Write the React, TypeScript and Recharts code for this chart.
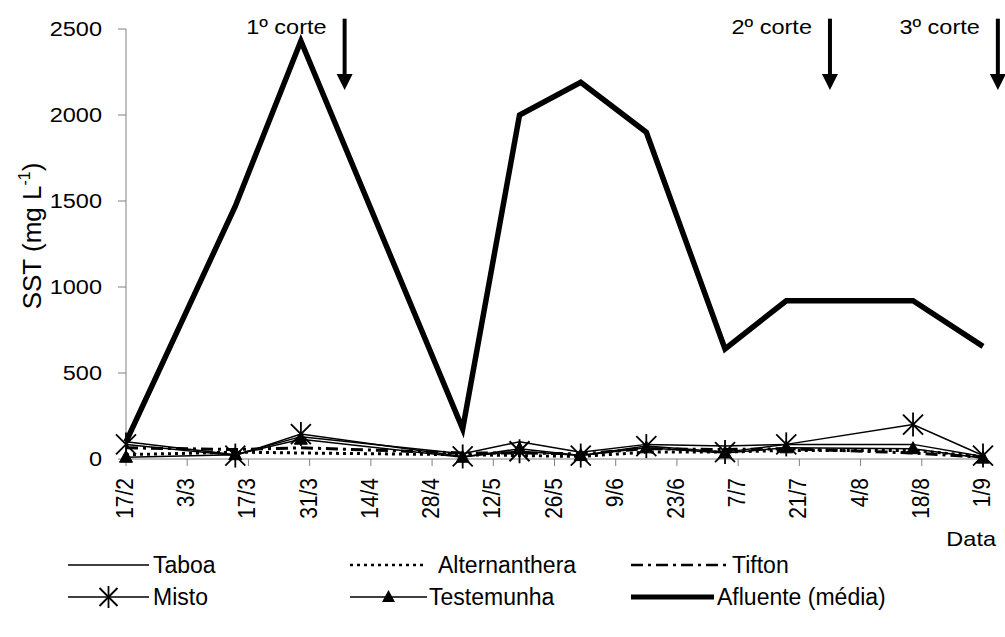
import React from 'react';
import { LineChart, Line, XAxis, YAxis, ReferenceLine } from 'recharts';

// sampling days, counted from 17/2
const days = [0, 25, 40, 77, 90, 104, 119, 137, 151, 180, 196];
const taboa = [100, 25, 130, 30, 100, 40, 85, 75, 85, 85, 15];
const alternanthera = [25, 40, 35, 25, 20, 15, 40, 40, 50, 50, 15];
const tifton = [65, 55, 65, 35, 35, 30, 60, 55, 60, 35, 10];
const misto = [85, 20, 145, 15, 45, 20, 75, 40, 85, 200, 20];
const testemunha = [10, 25, 115, 10, 60, 20, 65, 35, 65, 60, 5];
const afluente = [100, 1470, 2430, 175, 2000, 2190, 1900, 640, 920, 920, 655];

const tickDays = [0, 14, 28, 42, 56, 70, 84, 98, 112, 126, 140, 154, 168, 182, 196];
const tickLabels = ['17/2', '3/3', '17/3', '31/3', '14/4', '28/4', '12/5', '26/5', '9/6', '23/6', '7/7', '21/7', '4/8', '18/8', '1/9'];
const yTicks = [0, 500, 1000, 1500, 2000, 2500];

const cortes = [
  { label: '1º corte', day: 50 },
  { label: '2º corte', day: 161 },
  { label: '3º corte', day: 199.4 },
];
const arrowTop = 2560;
const arrowTip = 2145;

const data = days.map((d, i) => ({
  day: d,
  taboa: taboa[i],
  alternanthera: alternanthera[i],
  tifton: tifton[i],
  misto: misto[i],
  testemunha: testemunha[i],
  afluente: afluente[i],
}));

const FONT = '"Liberation Sans", Arial, sans-serif';
const AXIS = '#808080';

const XTick = (p: any) => {
  const idx = tickDays.indexOf(p.payload.value);
  return (
    <text
      transform={`translate(${p.x + 7},${p.y + 10}) rotate(-90) scale(1,1.15)`}
      textAnchor="end"
      fontFamily={FONT}
      fontSize={21}
      fill="#000"
    >
      {tickLabels[idx]}
    </text>
  );
};

const YTick = (p: any) => (
  <text
    transform={`translate(${p.x - 14},${p.y + 7}) scale(1.12,1)`}
    textAnchor="end"
    fontFamily={FONT}
    fontSize={21}
    fill="#000"
  >
    {p.payload.value}
  </text>
);

const StarDot = (p: any) => {
  const { cx, cy, index } = p;
  if (cx == null || cy == null) return <g key={`s${index}`} />;
  return (
    <g key={`s${index}`} stroke="#000" strokeWidth={1.8}>
      <line x1={cx - 10} y1={cy - 10} x2={cx + 10} y2={cy + 10} />
      <line x1={cx - 10} y1={cy + 10} x2={cx + 10} y2={cy - 10} />
      <line x1={cx} y1={cy - 12} x2={cx} y2={cy + 12} />
    </g>
  );
};

const TriDot = (p: any) => {
  const { cx, cy, index } = p;
  if (cx == null || cy == null) return <g key={`t${index}`} />;
  return (
    <polygon
      key={`t${index}`}
      points={`${cx},${cy - 7} ${cx - 6.5},${cy + 5} ${cx + 6.5},${cy + 5}`}
      fill="#000"
      stroke="#000"
    />
  );
};

const makeArrow = (label: string) => (p: any) => {
  const { x1, y1, y2 } = p;
  if (x1 == null) return <g />;
  return (
    <g>
      <line x1={x1} y1={y1} x2={x1} y2={y2 - 14} stroke="#000" strokeWidth={4} />
      <polygon points={`${x1 - 8},${y2 - 16} ${x1 + 8},${y2 - 16} ${x1},${y2}`} fill="#000" />
      <text
        transform={`translate(${x1 - 18},${y1 + 15}) scale(1.12,1)`}
        textAnchor="end"
        fontFamily={FONT}
        fontSize={21}
        fill="#000"
      >
        {label}
      </text>
    </g>
  );
};

const YLabel = (p: any) => {
  const vb = p.viewBox || { x: 26, y: 29, height: 430 };
  const x = vb.x + 15;
  const y = 236;
  return (
    <text
      transform={`translate(${x},${y}) rotate(-90)`}
      textAnchor="middle"
      fontFamily={FONT}
      fontSize={26}
      fill="#000"
    >
      SST (mg L
      <tspan fontSize={16} dy={-11}>-1</tspan>
      <tspan dy={11}>)</tspan>
    </text>
  );
};

const XLabel = (p: any) => {
  const vb = p.viewBox || { x: 126, y: 459, width: 857 };
  return (
    <text
      transform={`translate(${vb.x + vb.width + 13},${vb.y + 87}) scale(1.12,1)`}
      textAnchor="end"
      fontFamily={FONT}
      fontSize={21}
      fill="#000"
    >
      Data
    </text>
  );
};

const legendItems = [
  { name: 'Taboa', x0: 68, x1: 149, tx: 153, row: 0, dash: undefined, width: 1.5, marker: 'none' },
  { name: 'Alternanthera', x0: 350, x1: 425, tx: 438, row: 0, dash: '3 4', width: 2.5, marker: 'none' },
  { name: 'Tifton', x0: 631, x1: 728, tx: 732, row: 0, dash: '12 5 3 5', width: 2.5, marker: 'none' },
  { name: 'Misto', x0: 68, x1: 149, tx: 153, row: 1, dash: undefined, width: 1.5, marker: 'star' },
  { name: 'Testemunha', x0: 350, x1: 427, tx: 429, row: 1, dash: undefined, width: 1.5, marker: 'tri' },
  { name: 'Afluente (média)', x0: 631, x1: 714, tx: 717, row: 1, dash: undefined, width: 5, marker: 'none' },
];
const rowY = [565, 597];

const Legend = () => (
  <svg width={1005} height={637} style={{ position: 'absolute', left: 0, top: 0, pointerEvents: 'none' }}>
    {legendItems.map((it) => {
      const y = rowY[it.row];
      const mx = (it.x0 + it.x1) / 2;
      return (
        <g key={it.name}>
          <line x1={it.x0} y1={y} x2={it.x1} y2={y} stroke="#000" strokeWidth={it.width} strokeDasharray={it.dash} />
          {it.marker === 'star' && (
            <g stroke="#000" strokeWidth={1.8}>
              <line x1={mx - 9} y1={y - 9} x2={mx + 9} y2={y + 9} />
              <line x1={mx - 9} y1={y + 9} x2={mx + 9} y2={y - 9} />
              <line x1={mx} y1={y - 11} x2={mx} y2={y + 11} />
            </g>
          )}
          {it.marker === 'tri' && (
            <polygon points={`${mx},${y - 7} ${mx - 6.5},${y + 5} ${mx + 6.5},${y + 5}`} fill="#000" />
          )}
          <text x={it.tx} y={y + 8} fontFamily={FONT} fontSize={23} fill="#000">
            {it.name}
          </text>
        </g>
      );
    })}
  </svg>
);

export default function App() {
  return (
    <div style={{ position: 'absolute', left: 0, top: 0, width: 1005, height: 637, background: '#fff' }}>
      <LineChart
        width={1005}
        height={637}
        data={data}
        margin={{ top: 29, right: 22, bottom: 98, left: 26 }}
      >
        <XAxis
          type="number"
          dataKey="day"
          domain={[0, 196]}
          ticks={tickDays}
          interval={0}
          height={80}
          tickSize={7}
          tickLine={{ stroke: AXIS }}
          axisLine={{ stroke: AXIS }}
          tick={<XTick />}
          label={{ content: <XLabel /> }}
        />
        <YAxis
          type="number"
          domain={[0, 2500]}
          ticks={yTicks}
          interval={0}
          width={100}
          tickSize={8}
          tickLine={{ stroke: AXIS }}
          axisLine={{ stroke: AXIS }}
          tick={<YTick />}
          label={{ content: <YLabel /> }}
        />
        <Line dataKey="taboa" stroke="#000" strokeWidth={1.5} dot={false} isAnimationActive={false} />
        <Line dataKey="alternanthera" stroke="#000" strokeWidth={3} strokeDasharray="3 4" dot={false} isAnimationActive={false} />
        <Line dataKey="tifton" stroke="#000" strokeWidth={3} strokeDasharray="12 5 3 5" dot={false} isAnimationActive={false} />
        <Line dataKey="misto" stroke="#000" strokeWidth={1.5} dot={StarDot} isAnimationActive={false} />
        <Line dataKey="testemunha" stroke="#000" strokeWidth={1.5} dot={TriDot} isAnimationActive={false} />
        <Line dataKey="afluente" stroke="#000" strokeWidth={5.5} strokeLinejoin="miter" dot={false} isAnimationActive={false} />
        {cortes.map((c) => (
          <ReferenceLine
            key={c.label}
            segment={[{ x: c.day, y: arrowTop }, { x: c.day, y: arrowTip }]}
            ifOverflow="visible"
            stroke="#000"
            shape={makeArrow(c.label)}
          />
        ))}
      </LineChart>
      <Legend />
    </div>
  );
}
